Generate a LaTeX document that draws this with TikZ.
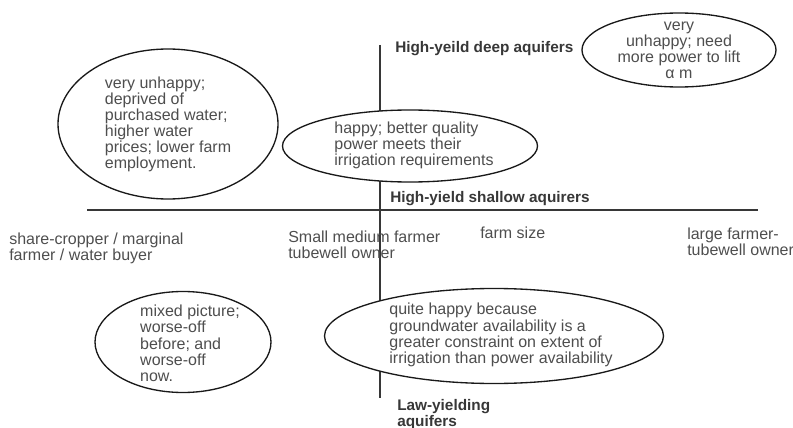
\documentclass[tikz,border=0pt]{standalone}
\usepackage{fontspec}
\setmainfont{Liberation Sans}
\usetikzlibrary{shapes.geometric}

\definecolor{txtgray}{RGB}{78,78,78}
\definecolor{axisgray}{RGB}{55,55,55}
\definecolor{rimgray}{RGB}{25,25,25}

% left-aligned lines pushed right (#1) and down (#2) inside a bubble
\newcommand{\padlines}[3]{\begin{tabular}{@{\hspace{#1}}l@{}}\rule{0pt}{#2}#3\end{tabular}}

\tikzset{
  bubble/.style={draw=rimgray, line width=1pt, fill=white, ellipse, inner sep=-10pt,
    text=txtgray, font=\fontsize{12}{12}\selectfont},
  plain/.style={anchor=north west, inner sep=0pt, text=txtgray, align=left,
    font=\fontsize{12}{12}\selectfont},
  zone/.style={anchor=north west, inner sep=0pt, text=axisgray, align=left,
    font=\fontsize{11.5}{12}\selectfont\bfseries},
}

\begin{document}
\begin{tikzpicture}[x=0.75pt,y=0.75pt,yscale=-1,xscale=1]
\useasboundingbox (0,0) rectangle (793,428);

%Axes
\coordinate (vtop) at (380,45);
\coordinate (vbot) at (380,398);
\coordinate (hleft) at (87,210);
\coordinate (hright) at (758,210);
\draw [color=axisgray, line width=1.1pt] (vtop) -- (vbot);
\draw [color=axisgray, line width=1.1pt] (hleft) -- (hright);

% Text Node
\node (deep) at (395,41) [zone] {High-yeild deep aquifers};
\node (shallow) at (390,191) [zone] {High-yield shallow aquirers};
\node (lowyield) at (397,399) [zone] {Law-yielding\\aquifers};
\node (cropper) at (9,233) [plain] {share-cropper / marginal\\farmer / water buyer};
\node (smallfarm) at (288,231) [plain] {Small medium farmer\\tubewell owner};
\node (farmsize) at (480,227) [plain] {farm size};
\node (largefarm) at (687,228) [plain] {large farmer-\\tubewell owner};

%Shape: Ellipse
\node (buyers) at (168,124) [bubble, minimum width=165pt, minimum height=112.5pt, align=left]
  {very unhappy;\\deprived of\\purchased water;\\higher water\\prices; lower farm\\employment.};
%Shape: Ellipse
\node (shallowown) at (410,146) [bubble, minimum width=191.25pt, minimum height=54pt]
  {\padlines{6pt}{0pt}{happy; better quality\\power meets their\\irrigation requirements}};
%Shape: Ellipse
\node (deepown) at (679,50) [bubble, minimum width=145.5pt, minimum height=55.5pt, align=center]
  {very\\unhappy; need\\more power to lift\\α m};
%Shape: Ellipse
\node (mixed) at (183,342) [bubble, minimum width=132pt, minimum height=75.75pt]
  {\padlines{10.5pt}{14pt}{mixed picture;\\worse-off\\before; and\\worse-off\\now.}};
%Shape: Ellipse
\node (quitehappy) at (494,336) [bubble, minimum width=254.25pt, minimum height=71.25pt]
  {\padlines{10.5pt}{0pt}{quite happy because\\groundwater availability is a\\greater constraint on extent of\\irrigation than power availability}};

\end{tikzpicture}
\end{document}
